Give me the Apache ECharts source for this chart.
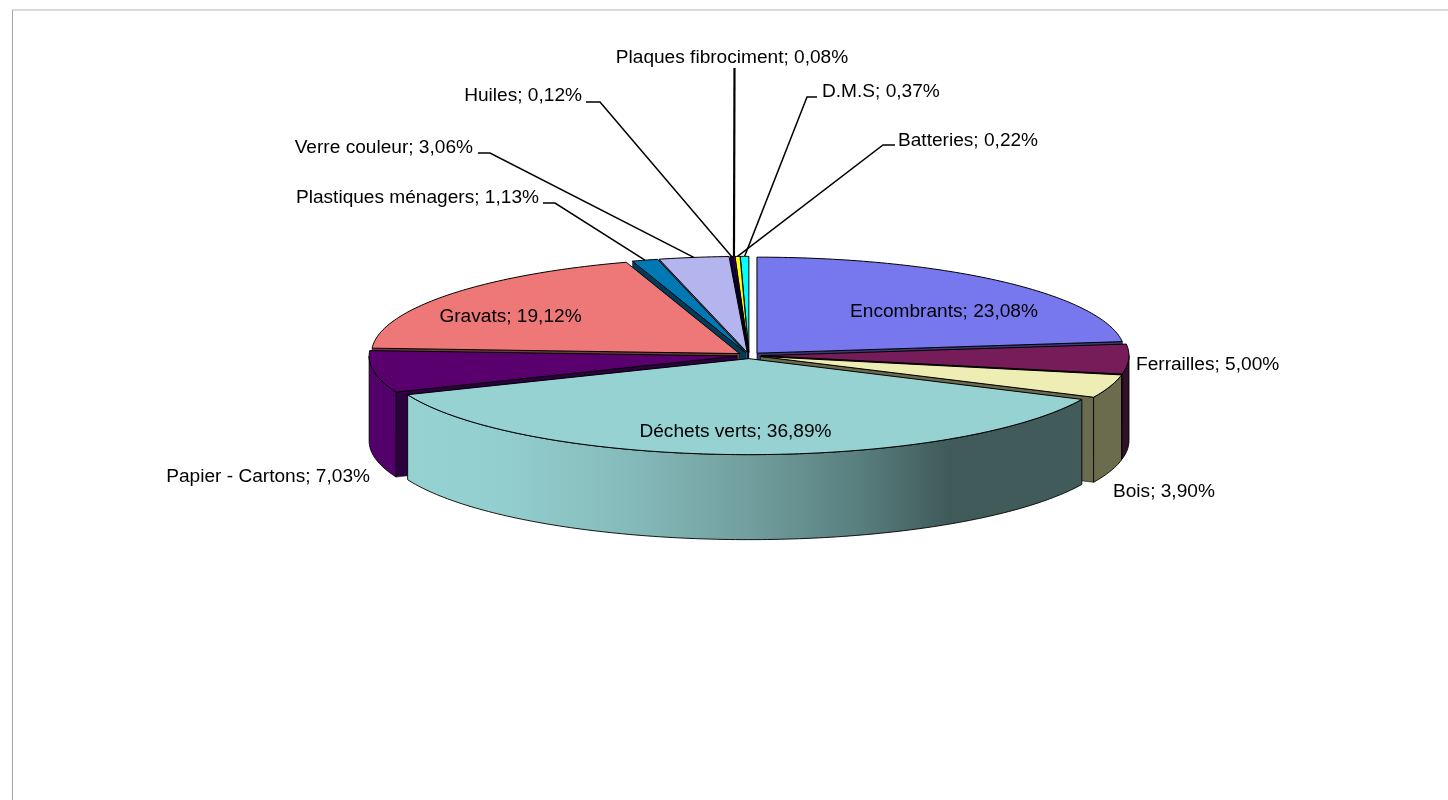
<!DOCTYPE html>
<html>
<head>
<meta charset="utf-8">
<style>html,body{margin:0;padding:0;background:#fff}#chart{width:1448px;height:800px}</style>
<script src="https://cdn.jsdelivr.net/npm/echarts@6/dist/echarts.min.js"></script>
</head>
<body>
<div id="chart"></div>
<script>
// Data, clockwise from twelve o'clock
const categories = ['Encombrants','Ferrailles','Bois','Déchets verts','Papier - Cartons','Gravats','Plastiques ménagers','Verre couleur','Huiles','Plaques fibrociment','Batteries','D.M.S'];
const values = [23.08,5.00,3.90,36.89,7.03,19.12,1.13,3.06,0.12,0.08,0.22,0.37];

// Painter's order: back slices first
const drawOrder = ['D.M.S','Batteries','Plaques fibrociment','Huiles','Verre couleur','Plastiques ménagers','Gravats','Encombrants','Ferrailles','Papier - Cartons','Bois','Déchets verts'];

// Styles
const topColors = {'Encombrants':'#7878EE','Ferrailles':'#761C58','Bois':'#EEEEB4','Déchets verts':'#96D2D2','Papier - Cartons':'#5A006E','Gravats':'#EE7878','Plastiques ménagers':'#0078B4','Verre couleur':'#B4B4EE','Huiles':'#14006E','Plaques fibrociment':'#800080','Batteries':'#FFFF00','D.M.S':'#00FFFF'};
const rimColors = {'Ferrailles':'#33102A','Bois':'#6B6B4D','Papier - Cartons':'#52006A'};
const faceColors = {'Encombrants':'#3A3A78','Ferrailles':'#3A0E2C','Bois':'#6B6B4D','Papier - Cartons':'#2D0040','Gravats':'#6E3A3A','Plastiques ménagers':'#003C5A','Verre couleur':'#5A5A78','Huiles':'#0A0038','Plaques fibrociment':'#400040','Batteries':'#808000','D.M.S':'#008080'};
const wallGradient = {type:'linear',x:408,y:0,x2:1085,y2:0,global:true,colorStops:[
  {offset:0,color:'#96D2D2'},{offset:0.13,color:'#94CFCF'},{offset:0.33,color:'#85BABA'},
  {offset:0.5,color:'#729F9F'},{offset:0.66,color:'#5A8080'},{offset:0.8,color:'#405A5A'},{offset:1,color:'#425C5C'}]};

// Pie geometry
const CX = 749, CY = 355.5, RX = 368, RY = 96, DEPTH = 85, EXPLODE = 12;
const FONT = '19.1px "Liberation Sans", Arial, sans-serif';

// Label placement
const labelLayout = {
  'Encombrants':{x:944,y:312,align:'center'},
  'Ferrailles':{x:1136,y:365,align:'left'},
  'Bois':{x:1113,y:492,align:'left'},
  'Déchets verts':{x:735.5,y:432,align:'center'},
  'Papier - Cartons':{x:370,y:477,align:'right'},
  'Gravats':{x:510.5,y:317,align:'center'},
  'Plastiques ménagers':{x:539,y:198,align:'right',leader:[[543,203],[555,203]]},
  'Verre couleur':{x:473,y:148,align:'right',leader:[[478,153],[490,153]]},
  'Huiles':{x:582,y:96,align:'right',leader:[[586,102],[600,102]]},
  'Plaques fibrociment':{x:732,y:58,align:'center',leader:[[734.5,68]],leaderWidth:2.2},
  'D.M.S':{x:822,y:92,align:'left',leader:[[817,97],[807,97]]},
  'Batteries':{x:898,y:141,align:'left',leader:[[895,145],[883,145]]}
};

const rad = d => d * Math.PI / 180;
const total = values.reduce((a, b) => a + b, 0);
const spans = {};
let running = 0;
categories.forEach((name, i) => {
  const start = running / total * 360;
  running += values[i];
  spans[name] = {start, end: running / total * 360};
});

function renderItem(params, api) {
  const name = drawOrder[api.value(0)];
  const {start, end} = spans[name];
  const mid = (start + end) / 2;
  const ax = CX + EXPLODE * Math.sin(rad(mid));
  const ay = CY - EXPLODE * (RY / RX) * Math.cos(rad(mid));
  const rim = (deg, dz) => [ax + RX * Math.sin(rad(deg)), ay - RY * Math.cos(rad(deg)) + (dz || 0)];
  const arc = (a, b, dz) => {
    const n = Math.max(1, Math.ceil(Math.abs(b - a)));
    const pts = [];
    for (let i = 0; i <= n; i++) pts.push(rim(a + (b - a) * i / n, dz));
    return pts;
  };
  const children = [];
  const face = (pts, fill, w) => children.push({type:'polygon',shape:{points:pts},style:{fill,stroke:'#000',lineWidth:w,lineJoin:'round'}});

  // radial faces that turn towards the viewer
  if (start >= 180) {
    const r = rim(start);
    face([[ax,ay],r,[r[0],r[1]+DEPTH],[ax,ay+DEPTH]], faceColors[name] || '#000', 0.4);
  }
  if (end <= 180 && end > 0) {
    const r = rim(end);
    face([[ax,ay],r,[r[0],r[1]+DEPTH],[ax,ay+DEPTH]], faceColors[name] || '#000', 0.6);
  }
  // outer wall
  const a = Math.max(start, 90), b = Math.min(end, 270);
  if (b > a) {
    const pts = arc(a, b, 0).concat(arc(b, a, DEPTH));
    face(pts, name === 'Déchets verts' ? wallGradient : rimColors[name], 0.9);
  }
  // top
  face([[ax,ay]].concat(arc(start, end, 0)), topColors[name], 1);

  // leader line, ending on the slice's rim
  const lay = labelLayout[name];
  if (lay.leader) {
    const end2 = rim(mid);
    children.push({type:'polyline',z2:50,shape:{points:lay.leader.concat([end2])},style:{fill:'none',stroke:'#000',lineWidth:lay.leaderWidth || 1.5}});
  }
  // label
  const value = values[categories.indexOf(name)];
  children.push({type:'text',z2:60,style:{
    text: name + '; ' + value.toFixed(2).replace('.', ',') + '%',
    x: lay.x, y: lay.y, align: lay.align, verticalAlign:'middle', font: FONT, fill:'#000'
  }});
  return {type:'group',children};
}

const chart = echarts.init(document.getElementById('chart'), null, {renderer:'canvas',width:1448,height:800});
chart.setOption({
  animation:false,
  backgroundColor:'#fff',
  graphic:[
    {type:'line',silent:true,shape:{x1:12,y1:10,x2:1448,y2:10},style:{stroke:'#CFCFCF',lineWidth:1.5}},
    {type:'line',silent:true,shape:{x1:12.5,y1:10,x2:12.5,y2:800},style:{stroke:'#A6A6A6',lineWidth:1}}
  ],
  series:[{
    type:'custom',
    coordinateSystem:'none',
    silent:true,
    clip:false,
    renderItem,
    data: drawOrder.map((n, i) => [i, values[categories.indexOf(n)]])
  }]
});
</script>
</body>
</html>
